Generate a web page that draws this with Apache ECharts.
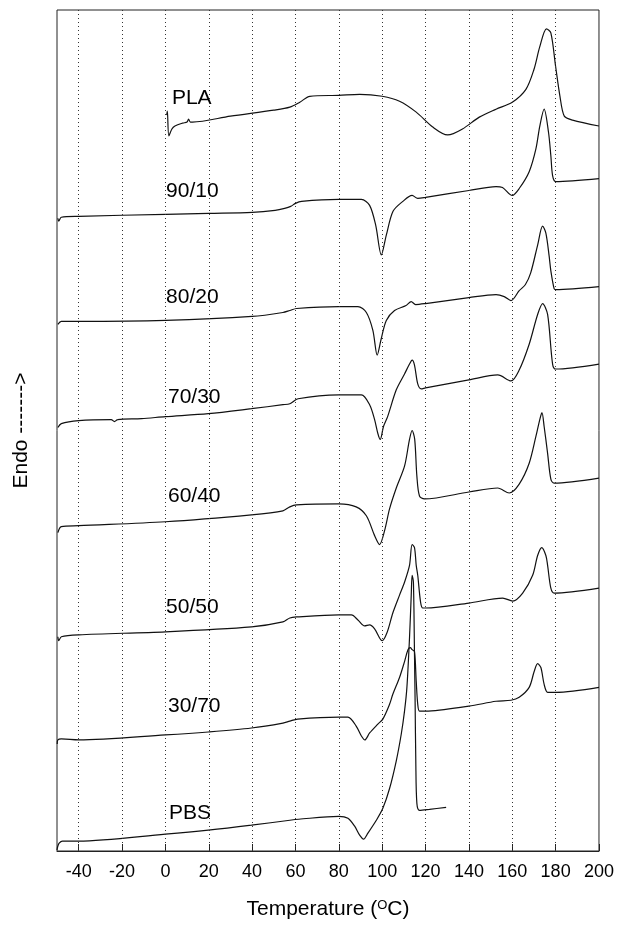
<!DOCTYPE html>
<html>
<head>
<meta charset="utf-8">
<script src="https://cdn.jsdelivr.net/npm/echarts@6/dist/echarts.min.js"></script>
<style>
  html, body { margin: 0; padding: 0; background: #fff; }
  #chart { width: 617px; height: 925px; }
</style>
</head>
<body>
<div id="chart"></div>
<script>
// DSC heating traces of PLA/PBS blends: [temperature (°C), heat flow (stacked, arbitrary units)]
const PLA = [[0.6, 74.2], [0.9, 74.6], [1.6, 72.1], [3, 72.8], [4.4, 73.1], [8, 73.4], [10, 73.5], [10.7, 73.8], [11.5, 73.5], [12.5, 73.5],
  [30, 74.1], [50, 74.7], [57.4, 75.0], [62, 75.5], [66.6, 76.1], [80, 76.2], [89.6, 76.3], [100, 76.1], [108, 75.6],
  [115.7, 74.5], [123.3, 73.0], [130.2, 72.2], [137, 72.8], [144.8, 74.0], [152.5, 74.8], [160, 75.5], [166.3, 76.8],
  [170, 78.8], [172.7, 81.1], [175.8, 82.9], [177.8, 82.5], [180, 79.1], [182, 76.1], [184, 74.1], [187.8, 73.7], [200, 73.1]];

const B90_10 = [[-49.6, 63.8], [-49.2, 63.5], [-48, 63.9], [-40, 64.0], [0, 64.2], [20, 64.3], [40, 64.4], [50.6, 64.6],
  [55, 64.8], [57.8, 65.0], [60, 65.3], [62.8, 65.5], [80, 65.7], [90.4, 65.7], [94.2, 65.1], [97, 63.1], [99.6, 60.1],
  [101.9, 62.1], [105, 64.5], [109.5, 65.5], [113.8, 66.1], [116.4, 65.8], [120, 65.9], [140, 66.6], [152.5, 67.0],
  [155.5, 66.9], [160, 66.1], [163.2, 66.8], [167.8, 68.5], [170.9, 70.8], [172.7, 73.1], [174.7, 74.8], [176.7, 72.5],
  [177.8, 70.1], [178.6, 68.1], [180, 67.5], [200, 67.8]];

const B80_20 = [[-49.6, 53.1], [-48, 53.4], [-40, 53.4], [0, 53.5], [40, 53.9], [54.2, 54.3], [57.4, 54.5], [60.5, 54.7],
  [80, 54.9], [88.8, 54.9], [92.7, 54.3], [95.7, 52.5], [97.7, 50.0], [99.5, 51.6], [101.9, 53.5], [105.7, 54.5],
  [111, 55.0], [113.4, 55.4], [115.4, 55.1], [120, 55.2], [140, 55.8], [152.5, 56.1], [156.3, 55.9], [159.4, 55.5],
  [163.2, 56.5], [166, 57.1], [168.5, 58.3], [171.7, 61.1], [174, 63.0], [175.5, 62.3], [177, 60.0], [177.8, 58.5],
  [179.3, 56.7], [180, 56.6], [200, 56.9]];

const B70_30 = [[-49.6, 42.7], [-48, 43.1], [-40, 43.4], [-25, 43.5], [-23.5, 43.3], [-22, 43.5], [-11, 43.6], [0, 43.8],
  [19.8, 44.1], [39.7, 44.6], [54.2, 45.0], [57.4, 45.1], [61.2, 45.6], [80, 46.0], [90.4, 46.0], [94.2, 45.0],
  [96.5, 43.5], [98, 42.1], [99.1, 41.5], [100.6, 42.8], [102.5, 43.8], [106.5, 46.5], [110.3, 48.1], [112.6, 49.1],
  [113.8, 49.5], [114.9, 49.0], [116.4, 47.1], [118, 46.6], [120, 46.7], [140, 47.5], [153.3, 48.0], [159.4, 47.4],
  [163.2, 48.5], [167.8, 51.1], [171.7, 54.1], [174, 55.2], [176.3, 54.1], [178.6, 49.1], [180, 48.6], [200, 49.1]];

const B60_40 = [[-49.6, 32.1], [-48, 32.7], [-40, 32.8], [0, 33.2], [39.7, 33.9], [54.2, 34.3], [57.4, 34.7], [60.5, 34.9],
  [80, 35.0], [88, 34.7], [92.7, 33.8], [96.5, 31.8], [98.8, 30.9], [101.1, 32.3], [103.4, 34.5], [106.5, 36.6],
  [110.3, 38.8], [112.6, 41.5], [113.8, 42.4], [115, 41.5], [116, 37.8], [117.2, 35.8], [119.5, 35.5], [140, 36.2],
  [153.3, 36.6], [158.6, 36.1], [163.2, 37.0], [167.8, 39.1], [170.9, 41.8], [172.8, 43.6], [173.7, 44.2], [174.7, 42.8],
  [176.3, 40.1], [177.8, 37.5], [179.3, 37.1], [200, 37.6]];

const B50_50 = [[-49.6, 21.6], [-49.2, 21.2], [-48, 21.6], [-40, 21.8], [0, 22.1], [39.7, 22.6], [54.2, 23.1], [57.4, 23.5],
  [60.5, 23.6], [80, 23.8], [85.8, 23.8], [88.8, 23.3], [91.9, 22.7], [94.2, 22.8], [96.5, 22.4], [100, 21.2],
  [102.2, 22.0], [104.9, 24.0], [108, 25.8], [110.3, 27.1], [112.6, 28.8], [113.8, 30.9], [114.9, 30.6], [115.7, 28.8],
  [116.4, 27.8], [117.7, 25.1], [118.7, 24.5], [120, 24.5], [140, 25.0], [155.6, 25.5], [160.2, 25.2], [164.8, 26.0],
  [169.4, 27.8], [171.7, 29.8], [173.6, 30.6], [175.5, 29.8], [176.3, 28.8], [177.8, 26.5], [179.3, 26.0], [200, 26.5]];

const B30_70 = [[-49.9, 10.8], [-49.6, 11.2], [-48, 11.3], [-40, 11.2], [0, 11.7], [19.8, 12.0], [39.7, 12.4], [54.2, 12.9],
  [57.4, 13.1], [61, 13.3], [80, 13.5], [84.2, 13.5], [88, 12.6], [90.4, 11.6], [92, 11.2], [94.2, 11.9], [98, 12.8],
  [100.3, 13.3], [103.4, 14.8], [104.9, 15.8], [108, 17.5], [110.3, 19.1], [111.9, 20.3], [113, 20.5], [113.8, 20.3],
  [114.9, 20.1], [115.7, 17.1], [116.4, 14.8], [117.2, 14.1], [120, 14.1], [140, 14.6], [152.5, 15.1], [159.4, 15.2],
  [163.2, 15.5], [167.8, 16.5], [170.1, 18.1], [171.7, 18.9], [173.2, 18.5], [174.7, 16.8], [176.3, 16.0], [180, 16.0],
  [200, 16.5]];

const PBS = [[-50, 0.1], [-49.6, 0.5], [-49, 0.8], [-47.5, 1.0], [-40, 1.0], [0, 1.7], [19.8, 2.1], [39.7, 2.6], [57.4, 3.1],
  [61.5, 3.2], [80, 3.5], [84.2, 3.3], [87.3, 2.5], [89.6, 1.6], [91.4, 1.2], [93.4, 1.8], [97.3, 3.1], [100.3, 4.3],
  [103.4, 6.3], [106.5, 9.1], [108.8, 11.8], [110.3, 14.1], [111.4, 16.5], [112.6, 21.5], [113.4, 25.8], [113.8, 27.8],
  [114.4, 27.1], [114.9, 19.8], [115.2, 14.8], [115.5, 9.1], [116, 4.8], [117.2, 4.1], [121.8, 4.2], [129.5, 4.4]];

// Sample names written beside each trace: [text, temperature, heat flow]
const curveLabels = [['PLA', 3.0, 75.95], ['90/10', 0.3, 66.55], ['80/20', 0.3, 55.8], ['70/30', 1.2, 45.8],
  ['60/40', 1.2, 35.75], ['50/50', 0.3, 24.55], ['30/70', 1.2, 14.55], ['PBS', 1.7, 3.85]];

const tickValues = [-40, -20, 0, 20, 40, 60, 80, 100, 120, 140, 160, 180, 200];
const gridValues = [-40, -20, 0, 20, 40, 60, 80, 100, 120, 140, 160, 180];

const FONT = '"Liberation Sans", Arial, Helvetica, sans-serif';
const traces = [PLA, B90_10, B80_20, B70_30, B60_40, B50_50, B30_70, PBS];

const chart = echarts.init(document.getElementById('chart'), null, { renderer: 'canvas' });

const lineSeries = traces.map(d => ({
  type: 'line',
  data: d,
  showSymbol: false,
  smooth: 0.3,
  lineStyle: { color: '#111', width: 1.2 },
  silent: true,
  z: 3
}));

// dotted vertical guides at each labelled temperature
lineSeries[0].markLine = {
  silent: true,
  symbol: 'none',
  label: { show: false },
  lineStyle: { color: '#333', width: 1, type: [1, 3] },
  data: gridValues.map(v => ({ xAxis: v }))
};

const option = {
  animation: false,
  backgroundColor: '#fff',
  grid: { left: 57, right: 17, top: 10, bottom: 67, show: true, borderColor: '#222', borderWidth: 1, backgroundColor: 'transparent' },
  xAxis: {
    type: 'value',
    min: -50,
    max: 200,
    name: 'Temperature ({sup|O}C)',
    nameLocation: 'middle',
    nameGap: 48,
    nameTextStyle: {
      fontSize: 21, color: '#000', fontFamily: FONT,
      rich: { sup: { fontSize: 13, color: '#000', fontFamily: FONT, verticalAlign: 'top', padding: [0, 0, 6, 0] } }
    },
    axisLine: { show: true, lineStyle: { color: '#222', width: 1 } },
    axisTick: { show: true, inside: true, length: 7, customValues: tickValues, lineStyle: { color: '#222' } },
    axisLabel: { customValues: tickValues, fontSize: 18, color: '#000', fontFamily: FONT, margin: 12 },
    splitLine: { show: false }
  },
  yAxis: {
    type: 'value',
    min: 0,
    max: 84.8,
    name: 'Endo ------->',
    nameLocation: 'middle',
    nameRotate: 90,
    nameGap: 25,
    nameTextStyle: { fontSize: 21, color: '#000', fontFamily: FONT },
    axisLine: { show: false },
    axisTick: { show: false },
    axisLabel: { show: false },
    splitLine: { show: false }
  },
  series: lineSeries
};

chart.setOption(option);

// trace names, anchored through the grid's own coordinate conversion
chart.setOption({
  graphic: curveLabels.map(l => {
    const p = chart.convertToPixel({ gridIndex: 0 }, [l[1], l[2]]);
    return {
      type: 'text',
      x: p[0],
      y: p[1],
      silent: true,
      z: 10,
      style: {
        text: l[0],
        fill: '#000',
        font: '21px ' + FONT,
        textAlign: 'left',
        textVerticalAlign: 'middle'
      }
    };
  })
});
</script>
</body>
</html>
